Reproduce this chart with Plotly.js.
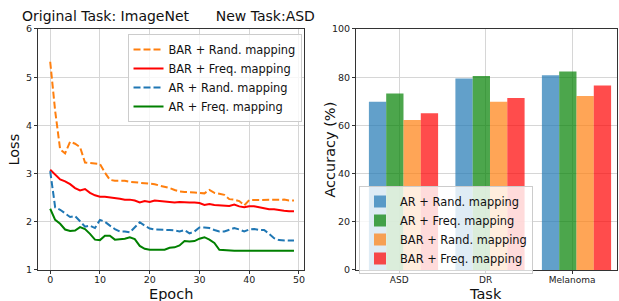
<!DOCTYPE html>
<html>
<head>
<meta charset="utf-8">
<script src="https://cdn.plot.ly/plotly-3.0.1.min.js"></script>
<style>html,body{margin:0;padding:0;background:#fff;}#chart{width:619px;height:301px;}</style>
</head>
<body>
<div id="chart"></div>
<script>
// ---- data ----
const epochs = Array.from({length: 50}, (_, i) => i);
const barRandLoss = [5.32,4.3,3.5,3.42,3.66,3.62,3.55,3.23,3.22,3.21,3.2,3.02,2.87,2.85,2.85,2.85,2.83,2.82,2.81,2.8,2.79,2.78,2.75,2.73,2.7,2.66,2.63,2.62,2.62,2.61,2.6,2.59,2.66,2.6,2.58,2.56,2.47,2.46,2.43,2.34,2.45,2.45,2.45,2.45,2.45,2.45,2.46,2.46,2.44,2.44];
const barFreqLoss = [3.08,2.97,2.88,2.84,2.78,2.7,2.65,2.68,2.6,2.55,2.52,2.52,2.51,2.49,2.48,2.46,2.46,2.44,2.4,2.43,2.41,2.44,2.43,2.43,2.41,2.4,2.41,2.4,2.4,2.4,2.39,2.35,2.37,2.35,2.34,2.34,2.33,2.36,2.32,2.3,2.32,2.32,2.3,2.28,2.26,2.26,2.24,2.23,2.22,2.22];
const arRandLoss = [3.05,2.3,2.25,2.17,2.1,2.12,2.0,1.9,1.92,1.87,2.04,2.0,1.92,1.85,1.8,1.8,1.78,1.88,1.99,1.92,1.86,1.84,1.84,1.84,1.83,1.82,1.8,1.83,1.76,1.8,1.88,1.88,1.87,1.83,1.8,1.8,1.83,1.87,1.84,1.8,1.84,1.85,1.83,1.83,1.75,1.66,1.62,1.61,1.61,1.61];
const arFreqLoss = [2.27,2.04,1.96,1.84,1.81,1.82,1.89,1.85,1.75,1.63,1.62,1.71,1.71,1.63,1.64,1.65,1.68,1.64,1.5,1.44,1.42,1.42,1.42,1.42,1.46,1.47,1.51,1.6,1.59,1.6,1.65,1.68,1.63,1.56,1.42,1.41,1.4,1.4,1.4,1.4,1.4,1.4,1.4,1.4,1.4,1.4,1.4,1.4,1.4,1.4];

const tasks = ['ASD','DR','Melanoma'];
const arRandAcc  = [69.8, 79.5, 80.8];
const arFreqAcc  = [73.2, 80.5, 82.4];
const barRandAcc = [62.2, 69.8, 72.2];
const barFreqAcc = [65.0, 71.4, 76.6];

const lossTicks = [0,10,20,30,40,50];
const lossYTicks = [1,2,3,4,5,6];
const accTicks = [0,20,40,60,80,100];

// ---- traces ----
const dashPat = '7px,3px';
const BW = 0.2;
const traces = [
  {x: epochs, y: barRandLoss, type:'scatter', mode:'lines', name:'BAR + Rand. mapping', line:{color:'#ff7f0e', width:2, dash:dashPat}, xaxis:'x', yaxis:'y', legend:'legend'},
  {x: epochs, y: barFreqLoss, type:'scatter', mode:'lines', name:'BAR + Freq. mapping', line:{color:'#ff0000', width:2}, xaxis:'x', yaxis:'y', legend:'legend'},
  {x: epochs, y: arRandLoss, type:'scatter', mode:'lines', name:'AR + Rand. mapping', line:{color:'#1f77b4', width:2, dash:dashPat}, xaxis:'x', yaxis:'y', legend:'legend'},
  {x: epochs, y: arFreqLoss, type:'scatter', mode:'lines', name:'AR + Freq. mapping', line:{color:'#008000', width:2}, xaxis:'x', yaxis:'y', legend:'legend'},
  {x: tasks, y: arRandAcc, type:'bar', name:'AR + Rand. mapping', width:BW, offset:-0.35, marker:{color:'rgba(31,119,180,0.7)'}, xaxis:'x2', yaxis:'y2', legend:'legend2'},
  {x: tasks, y: arFreqAcc, type:'bar', name:'AR + Freq. mapping', width:BW, offset:-0.15, marker:{color:'rgba(0,128,0,0.7)'}, xaxis:'x2', yaxis:'y2', legend:'legend2'},
  {x: tasks, y: barRandAcc, type:'bar', name:'BAR + Rand. mapping', width:BW, offset:0.05, marker:{color:'rgba(255,127,14,0.7)'}, xaxis:'x2', yaxis:'y2', legend:'legend2'},
  {x: tasks, y: barFreqAcc, type:'bar', name:'BAR + Freq. mapping', width:BW, offset:0.25, marker:{color:'rgba(255,0,0,0.7)'}, xaxis:'x2', yaxis:'y2', legend:'legend2'}
];

const F = 'DejaVu Sans, sans-serif';
const axBase = {showline:true, linecolor:'#333', linewidth:1, mirror:true, ticks:'outside', ticklen:3, tickcolor:'#333',
  showgrid:true, gridcolor:'#d6d6d6', gridwidth:1, zeroline:false, tickfont:{family:F, size:9.5, color:'#222'}};
const titleFont = {family:F, size:14.5, color:'#111'};

const layout = {
  width:619, height:301,
  margin:{l:0, r:0, t:0, b:0},
  paper_bgcolor:'#fff', plot_bgcolor:'#fff',
  font:{family:F, color:'#111'},
  barmode:'overlay',
  xaxis: Object.assign({}, axBase, {domain:[0.0614,0.491], range:[-2.45,51.0], tickvals:lossTicks, ticklabelstandoff:-2}),
  yaxis: Object.assign({}, axBase, {domain:[0.103,0.9037], range:[1,6], tickvals:lossYTicks}),
  xaxis2: Object.assign({}, axBase, {domain:[0.575,0.997], range:[-0.5,2.52], anchor:'y2', ticklabelstandoff:-2, tickfont:{family:F, size:9, color:'#222'}}),
  yaxis2: Object.assign({}, axBase, {domain:[0.103,0.9037], range:[0,100], tickvals:accTicks, anchor:'x2'}),
  legend: {x:0.206, y:0.887, xanchor:'left', yanchor:'top', bgcolor:'rgba(255,255,255,0.8)', bordercolor:'#ccc', borderwidth:1,
    font:{family:F, size:11.4, color:'#111'}, tracegroupgap:0, itemwidth:30},
  legend2: {x:0.58, y:1-186/301, xanchor:'left', yanchor:'top', bgcolor:'rgba(255,255,255,0.8)', bordercolor:'#ccc', borderwidth:1,
    font:{family:F, size:11.4, color:'#111'}, tracegroupgap:0, itemwidth:30},
  annotations: [
    {text:'Original Task: ImageNet\u00a0\u00a0\u00a0\u00a0\u00a0\u00a0New Task:ASD', xref:'paper', yref:'paper', x:0.273, y:1-16/301,
     xanchor:'center', yanchor:'middle', showarrow:false, font:{family:F, size:14, color:'#111'}},
    {text:'Epoch', xref:'paper', yref:'paper', x:0.276, y:1-293.5/301, xanchor:'center', yanchor:'middle', showarrow:false, font:titleFont},
    {text:'Loss', xref:'paper', yref:'paper', x:14/619, y:0.503, xanchor:'center', yanchor:'middle', textangle:-90, showarrow:false, font:titleFont},
    {text:'Task', xref:'paper', yref:'paper', x:486/619, y:1-293.5/301, xanchor:'center', yanchor:'middle', showarrow:false, font:titleFont},
    {text:'Accuracy (%)', xref:'paper', yref:'paper', x:330/619, y:0.503, xanchor:'center', yanchor:'middle', textangle:-90, showarrow:false, font:titleFont}
  ]
};

Plotly.newPlot('chart', traces, layout, {displayModeBar:false, staticPlot:true});
</script>
</body>
</html>
